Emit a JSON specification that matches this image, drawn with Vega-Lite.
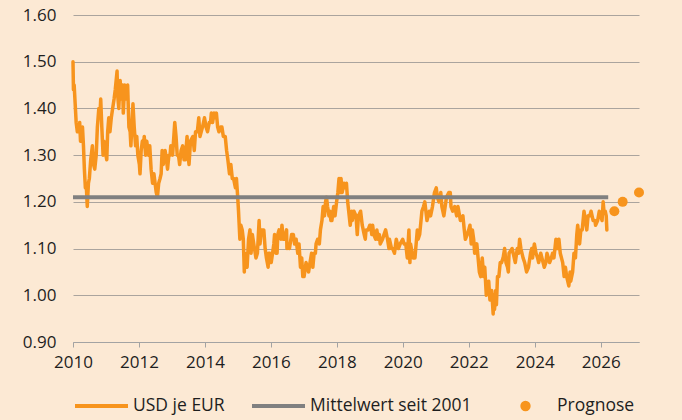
{
"$schema":"https://vega.github.io/schema/vega-lite/v6.json",
"autosize":{"type":"none"},
"padding":{"left":73,"top":15,"right":43,"bottom":78},
"width":566,"height":327,
"background":"#FCE9D4",
"config":{"view":{"stroke":null},"font":"Open Sans","axis":{"labelFont":"Open Sans","labelColor":"#1e1e1e","labelFontSize":17},"legend":{"labelFont":"Open Sans"}},
"datasets":{
"fx":[
{"d":"2010-01-01","v":1.50},{"d":"2010-01-06","v":1.44},{"d":"2010-01-14","v":1.45},{"d":"2010-01-25","v":1.41},{"d":"2010-02-05","v":1.37},{"d":"2010-02-18","v":1.35},{"d":"2010-03-03","v":1.36},{"d":"2010-03-16","v":1.37},{"d":"2010-03-25","v":1.33},{"d":"2010-04-08","v":1.34},{"d":"2010-04-16","v":1.36},{"d":"2010-04-27","v":1.32},{"d":"2010-05-07","v":1.27},{"d":"2010-05-18","v":1.23},{"d":"2010-05-27","v":1.24},{"d":"2010-06-08","v":1.19},{"d":"2010-06-21","v":1.24},{"d":"2010-07-01","v":1.25},{"d":"2010-07-16","v":1.29},{"d":"2010-08-04","v":1.32},{"d":"2010-08-16","v":1.28},{"d":"2010-08-30","v":1.27},{"d":"2010-09-15","v":1.30},{"d":"2010-09-28","v":1.36},{"d":"2010-10-14","v":1.40},{"d":"2010-10-25","v":1.38},{"d":"2010-11-04","v":1.42},{"d":"2010-11-16","v":1.36},{"d":"2010-11-30","v":1.30},{"d":"2010-12-10","v":1.33},{"d":"2010-12-22","v":1.31},
{"d":"2011-01-10","v":1.29},{"d":"2011-01-20","v":1.35},{"d":"2011-02-01","v":1.38},{"d":"2011-02-14","v":1.35},{"d":"2011-03-01","v":1.38},{"d":"2011-03-16","v":1.40},{"d":"2011-04-01","v":1.42},{"d":"2011-04-14","v":1.44},{"d":"2011-05-04","v":1.48},{"d":"2011-05-10","v":1.43},{"d":"2011-05-23","v":1.40},{"d":"2011-06-07","v":1.46},{"d":"2011-06-20","v":1.42},{"d":"2011-07-04","v":1.45},{"d":"2011-07-12","v":1.39},{"d":"2011-07-27","v":1.45},{"d":"2011-08-10","v":1.42},{"d":"2011-08-29","v":1.45},{"d":"2011-09-12","v":1.36},{"d":"2011-09-26","v":1.35},{"d":"2011-10-04","v":1.32},{"d":"2011-10-27","v":1.41},{"d":"2011-11-10","v":1.36},{"d":"2011-11-25","v":1.32},{"d":"2011-12-08","v":1.34},{"d":"2011-12-20","v":1.30},
{"d":"2012-01-06","v":1.28},{"d":"2012-01-13","v":1.26},{"d":"2012-01-26","v":1.31},{"d":"2012-02-08","v":1.33},{"d":"2012-02-20","v":1.32},{"d":"2012-02-29","v":1.34},{"d":"2012-03-15","v":1.30},{"d":"2012-03-28","v":1.33},{"d":"2012-04-16","v":1.30},{"d":"2012-04-30","v":1.32},{"d":"2012-05-15","v":1.27},{"d":"2012-05-31","v":1.24},{"d":"2012-06-15","v":1.26},{"d":"2012-06-28","v":1.24},{"d":"2012-07-11","v":1.22},{"d":"2012-07-24","v":1.21},{"d":"2012-08-07","v":1.24},{"d":"2012-08-22","v":1.25},{"d":"2012-09-03","v":1.26},{"d":"2012-09-14","v":1.31},{"d":"2012-09-26","v":1.28},{"d":"2012-10-17","v":1.31},{"d":"2012-11-01","v":1.29},{"d":"2012-11-13","v":1.27},{"d":"2012-11-28","v":1.30},{"d":"2012-12-11","v":1.30},{"d":"2012-12-19","v":1.32},
{"d":"2013-01-08","v":1.30},{"d":"2013-01-25","v":1.35},{"d":"2013-02-01","v":1.37},{"d":"2013-02-15","v":1.34},{"d":"2013-02-28","v":1.30},{"d":"2013-03-14","v":1.30},{"d":"2013-03-27","v":1.28},{"d":"2013-04-12","v":1.31},{"d":"2013-04-30","v":1.32},{"d":"2013-05-15","v":1.29},{"d":"2013-05-28","v":1.29},{"d":"2013-06-17","v":1.34},{"d":"2013-06-28","v":1.30},{"d":"2013-07-09","v":1.28},{"d":"2013-07-25","v":1.33},{"d":"2013-08-20","v":1.34},{"d":"2013-09-05","v":1.31},{"d":"2013-09-19","v":1.35},{"d":"2013-10-09","v":1.35},{"d":"2013-10-25","v":1.38},{"d":"2013-11-07","v":1.34},{"d":"2013-11-21","v":1.35},{"d":"2013-12-05","v":1.36},{"d":"2013-12-27","v":1.38},
{"d":"2014-01-14","v":1.36},{"d":"2014-01-30","v":1.35},{"d":"2014-02-18","v":1.37},{"d":"2014-03-04","v":1.37},{"d":"2014-03-13","v":1.39},{"d":"2014-03-27","v":1.37},{"d":"2014-04-11","v":1.39},{"d":"2014-04-24","v":1.38},{"d":"2014-05-08","v":1.39},{"d":"2014-05-22","v":1.36},{"d":"2014-06-05","v":1.35},{"d":"2014-06-24","v":1.36},{"d":"2014-07-08","v":1.36},{"d":"2014-07-24","v":1.34},{"d":"2014-08-14","v":1.34},{"d":"2014-08-29","v":1.31},{"d":"2014-09-12","v":1.29},{"d":"2014-09-30","v":1.26},{"d":"2014-10-15","v":1.28},{"d":"2014-10-31","v":1.25},{"d":"2014-11-14","v":1.25},{"d":"2014-12-05","v":1.23},{"d":"2014-12-16","v":1.25},{"d":"2014-12-30","v":1.21},
{"d":"2015-01-08","v":1.18},{"d":"2015-01-23","v":1.12},{"d":"2015-02-03","v":1.15},{"d":"2015-02-18","v":1.14},{"d":"2015-03-02","v":1.12},{"d":"2015-03-13","v":1.05},{"d":"2015-03-18","v":1.09},{"d":"2015-03-31","v":1.07},{"d":"2015-04-13","v":1.06},{"d":"2015-04-29","v":1.12},{"d":"2015-05-15","v":1.14},{"d":"2015-05-27","v":1.09},{"d":"2015-06-10","v":1.13},{"d":"2015-06-26","v":1.11},{"d":"2015-07-20","v":1.08},{"d":"2015-08-05","v":1.09},{"d":"2015-08-24","v":1.16},{"d":"2015-09-03","v":1.11},{"d":"2015-09-18","v":1.14},{"d":"2015-10-15","v":1.14},{"d":"2015-10-30","v":1.10},{"d":"2015-11-13","v":1.08},{"d":"2015-12-02","v":1.06},{"d":"2015-12-07","v":1.09},{"d":"2015-12-22","v":1.09},
{"d":"2016-01-05","v":1.07},{"d":"2016-01-20","v":1.09},{"d":"2016-02-03","v":1.11},{"d":"2016-02-11","v":1.13},{"d":"2016-02-26","v":1.09},{"d":"2016-03-10","v":1.09},{"d":"2016-03-18","v":1.13},{"d":"2016-04-01","v":1.14},{"d":"2016-04-22","v":1.12},{"d":"2016-05-03","v":1.15},{"d":"2016-05-18","v":1.12},{"d":"2016-06-01","v":1.12},{"d":"2016-06-23","v":1.14},{"d":"2016-06-27","v":1.10},{"d":"2016-07-12","v":1.11},{"d":"2016-07-25","v":1.10},{"d":"2016-08-18","v":1.13},{"d":"2016-09-06","v":1.13},{"d":"2016-09-20","v":1.11},{"d":"2016-10-07","v":1.12},{"d":"2016-10-25","v":1.09},{"d":"2016-11-08","v":1.11},{"d":"2016-11-24","v":1.06},{"d":"2016-12-08","v":1.08},{"d":"2016-12-20","v":1.04},
{"d":"2017-01-03","v":1.04},{"d":"2017-01-25","v":1.07},{"d":"2017-02-08","v":1.06},{"d":"2017-02-22","v":1.05},{"d":"2017-03-10","v":1.07},{"d":"2017-03-27","v":1.09},{"d":"2017-04-10","v":1.06},{"d":"2017-04-24","v":1.09},{"d":"2017-05-08","v":1.09},{"d":"2017-05-16","v":1.11},{"d":"2017-06-02","v":1.12},{"d":"2017-06-21","v":1.11},{"d":"2017-07-03","v":1.14},{"d":"2017-07-20","v":1.16},{"d":"2017-08-02","v":1.19},{"d":"2017-08-17","v":1.17},{"d":"2017-08-29","v":1.20},{"d":"2017-09-08","v":1.21},{"d":"2017-09-20","v":1.19},{"d":"2017-10-06","v":1.17},{"d":"2017-10-16","v":1.18},{"d":"2017-10-27","v":1.16},{"d":"2017-11-07","v":1.16},{"d":"2017-11-27","v":1.19},{"d":"2017-12-12","v":1.17},{"d":"2017-12-29","v":1.20},
{"d":"2018-01-12","v":1.22},{"d":"2018-01-25","v":1.25},{"d":"2018-02-09","v":1.22},{"d":"2018-02-16","v":1.25},{"d":"2018-03-01","v":1.22},{"d":"2018-03-22","v":1.24},{"d":"2018-04-10","v":1.23},{"d":"2018-04-17","v":1.24},{"d":"2018-05-01","v":1.20},{"d":"2018-05-29","v":1.15},{"d":"2018-06-14","v":1.18},{"d":"2018-06-21","v":1.16},{"d":"2018-07-09","v":1.18},{"d":"2018-08-01","v":1.17},{"d":"2018-08-15","v":1.13},{"d":"2018-08-28","v":1.17},{"d":"2018-09-21","v":1.18},{"d":"2018-10-09","v":1.15},{"d":"2018-10-31","v":1.13},{"d":"2018-11-12","v":1.12},{"d":"2018-11-20","v":1.14},{"d":"2018-12-13","v":1.14},{"d":"2018-12-31","v":1.15},
{"d":"2019-01-10","v":1.15},{"d":"2019-01-23","v":1.13},{"d":"2019-02-01","v":1.15},{"d":"2019-02-14","v":1.13},{"d":"2019-03-07","v":1.12},{"d":"2019-03-20","v":1.14},{"d":"2019-04-02","v":1.12},{"d":"2019-04-17","v":1.13},{"d":"2019-04-26","v":1.11},{"d":"2019-05-22","v":1.12},{"d":"2019-06-07","v":1.13},{"d":"2019-06-25","v":1.14},{"d":"2019-07-16","v":1.12},{"d":"2019-08-01","v":1.10},{"d":"2019-08-06","v":1.12},{"d":"2019-08-30","v":1.10},{"d":"2019-09-12","v":1.10},{"d":"2019-10-01","v":1.09},{"d":"2019-10-21","v":1.12},{"d":"2019-11-14","v":1.10},{"d":"2019-12-03","v":1.11},{"d":"2019-12-31","v":1.12},
{"d":"2020-01-16","v":1.11},{"d":"2020-02-03","v":1.11},{"d":"2020-02-20","v":1.08},{"d":"2020-03-09","v":1.14},{"d":"2020-03-20","v":1.07},{"d":"2020-03-27","v":1.11},{"d":"2020-04-15","v":1.09},{"d":"2020-04-24","v":1.08},{"d":"2020-05-15","v":1.08},{"d":"2020-06-10","v":1.14},{"d":"2020-06-19","v":1.12},{"d":"2020-07-06","v":1.13},{"d":"2020-07-31","v":1.18},{"d":"2020-08-18","v":1.19},{"d":"2020-09-01","v":1.20},{"d":"2020-09-25","v":1.16},{"d":"2020-10-21","v":1.18},{"d":"2020-11-04","v":1.17},{"d":"2020-11-25","v":1.19},{"d":"2020-12-17","v":1.22},
{"d":"2021-01-06","v":1.23},{"d":"2021-01-18","v":1.21},{"d":"2021-02-05","v":1.20},{"d":"2021-02-25","v":1.22},{"d":"2021-03-09","v":1.19},{"d":"2021-03-31","v":1.17},{"d":"2021-04-29","v":1.21},{"d":"2021-05-25","v":1.22},{"d":"2021-06-10","v":1.22},{"d":"2021-06-18","v":1.19},{"d":"2021-07-07","v":1.18},{"d":"2021-07-30","v":1.19},{"d":"2021-08-20","v":1.17},{"d":"2021-09-03","v":1.19},{"d":"2021-09-30","v":1.16},{"d":"2021-10-28","v":1.17},{"d":"2021-11-12","v":1.14},{"d":"2021-11-24","v":1.12},{"d":"2021-12-15","v":1.13},{"d":"2021-12-31","v":1.14},
{"d":"2022-01-14","v":1.15},{"d":"2022-01-28","v":1.11},{"d":"2022-02-10","v":1.14},{"d":"2022-02-24","v":1.12},{"d":"2022-03-07","v":1.09},{"d":"2022-03-31","v":1.11},{"d":"2022-04-14","v":1.08},{"d":"2022-04-28","v":1.05},{"d":"2022-05-13","v":1.04},{"d":"2022-05-30","v":1.08},{"d":"2022-06-15","v":1.04},{"d":"2022-06-27","v":1.06},{"d":"2022-07-14","v":1.00},{"d":"2022-07-29","v":1.02},{"d":"2022-08-10","v":1.03},{"d":"2022-08-23","v":0.99},{"d":"2022-09-06","v":0.99},{"d":"2022-09-12","v":1.01},{"d":"2022-09-28","v":0.96},{"d":"2022-10-04","v":1.00},{"d":"2022-10-13","v":0.97},{"d":"2022-10-26","v":1.01},{"d":"2022-11-03","v":0.98},{"d":"2022-11-15","v":1.04},{"d":"2022-11-30","v":1.04},{"d":"2022-12-15","v":1.07},{"d":"2022-12-30","v":1.07},
{"d":"2023-01-16","v":1.08},{"d":"2023-02-02","v":1.10},{"d":"2023-02-17","v":1.07},{"d":"2023-03-06","v":1.06},{"d":"2023-03-15","v":1.05},{"d":"2023-03-23","v":1.09},{"d":"2023-04-26","v":1.10},{"d":"2023-05-31","v":1.07},{"d":"2023-06-22","v":1.10},{"d":"2023-07-06","v":1.09},{"d":"2023-07-18","v":1.12},{"d":"2023-08-01","v":1.10},{"d":"2023-08-25","v":1.08},{"d":"2023-09-12","v":1.07},{"d":"2023-10-03","v":1.05},{"d":"2023-10-24","v":1.06},{"d":"2023-11-16","v":1.09},{"d":"2023-11-29","v":1.10},{"d":"2023-12-08","v":1.08},{"d":"2023-12-28","v":1.11},
{"d":"2024-01-16","v":1.09},{"d":"2024-02-02","v":1.08},{"d":"2024-02-14","v":1.07},{"d":"2024-03-08","v":1.09},{"d":"2024-03-21","v":1.08},{"d":"2024-04-16","v":1.06},{"d":"2024-05-03","v":1.07},{"d":"2024-05-16","v":1.09},{"d":"2024-06-14","v":1.07},{"d":"2024-07-03","v":1.08},{"d":"2024-07-17","v":1.09},{"d":"2024-08-01","v":1.08},{"d":"2024-08-23","v":1.12},{"d":"2024-09-04","v":1.10},{"d":"2024-09-25","v":1.12},{"d":"2024-10-10","v":1.09},{"d":"2024-11-06","v":1.07},{"d":"2024-11-22","v":1.04},{"d":"2024-12-06","v":1.06},{"d":"2024-12-20","v":1.04},
{"d":"2025-01-13","v":1.02},{"d":"2025-01-27","v":1.05},{"d":"2025-02-03","v":1.03},{"d":"2025-02-24","v":1.05},{"d":"2025-03-11","v":1.09},{"d":"2025-03-27","v":1.08},{"d":"2025-04-11","v":1.13},{"d":"2025-04-21","v":1.15},{"d":"2025-05-12","v":1.11},{"d":"2025-05-26","v":1.14},{"d":"2025-06-10","v":1.14},{"d":"2025-06-30","v":1.18},{"d":"2025-07-16","v":1.16},{"d":"2025-07-31","v":1.14},{"d":"2025-08-14","v":1.17},{"d":"2025-09-01","v":1.17},{"d":"2025-09-16","v":1.18},{"d":"2025-10-09","v":1.16},{"d":"2025-10-29","v":1.16},{"d":"2025-11-05","v":1.15},{"d":"2025-11-28","v":1.16},{"d":"2025-12-16","v":1.18},{"d":"2025-12-31","v":1.17},
{"d":"2026-01-16","v":1.16},{"d":"2026-01-28","v":1.20},{"d":"2026-02-06","v":1.18},{"d":"2026-02-20","v":1.18},{"d":"2026-03-03","v":1.17},{"d":"2026-03-10","v":1.14}
],
"mean":[{"d":"2010-01-01","v":1.21},{"d":"2026-03-25","v":1.21}],
"fc":[{"d":"2026-06-01","v":1.18},{"d":"2026-09-01","v":1.20},{"d":"2027-03-01","v":1.22}]
},
"encoding":{
"x":{"field":"d","type":"temporal","scale":{"domain":["2010-01-01","2027-03-01"]},
"axis":{"title":null,"format":"%Y","tickCount":{"interval":"year","step":2},"grid":false,"labelFlush":false,"domainColor":"#a3a3a3","domainWidth":1.2,"tickColor":"#a3a3a3","tickSize":5,"labelPadding":7,"labelFontSize":17}},
"y":{"field":"v","type":"quantitative","scale":{"domain":[0.9,1.6],"nice":false,"zero":false},
"axis":{"title":null,"values":[0.9,1.0,1.1,1.2,1.3,1.4,1.5,1.6],"format":".2f","domain":false,"ticks":false,"grid":true,"gridColor":"#aaa49e","gridWidth":1.2,"labelPadding":17,"labelFontSize":17}}
},
"layer":[
{"data":{"name":"fx"},"mark":{"type":"line","strokeWidth":3.5,"strokeJoin":"round","strokeCap":"round"},
"encoding":{"color":{"datum":"USD je EUR","type":"nominal","scale":{"domain":["USD je EUR","Mittelwert seit 2001","Prognose"],"range":["#F7941D","#808080","#F7941D"]},
"legend":{"title":null,"orient":"none","legendX":0,"legendY":381,"direction":"horizontal","symbolType":"stroke","symbolSize":2809,"symbolStrokeWidth":4,"clipHeight":20,"labelFontSize":17.5,"labelLimit":400,"labelColor":"#1e1e1e","labelOffset":3,"columnPadding":25,
"encode":{"symbols":{"update":{"shape":{"signal":"datum.value === 'Prognose' ? 'M-0.12,0A0.12,0.12,0,1,1,0.12,0A0.12,0.12,0,1,1,-0.12,0Z' : 'stroke'"},"fill":{"scale":"color","field":"value"},"stroke":{"scale":"color","field":"value"},"opacity":{"value":1}}}}}}}},
{"data":{"name":"mean"},"mark":{"type":"line","strokeWidth":4},"encoding":{"color":{"datum":"Mittelwert seit 2001","type":"nominal"}}},
{"data":{"name":"fc"},"mark":{"type":"point","filled":true,"size":100,"opacity":1},"encoding":{"color":{"datum":"Prognose","type":"nominal"}}}
]
}
